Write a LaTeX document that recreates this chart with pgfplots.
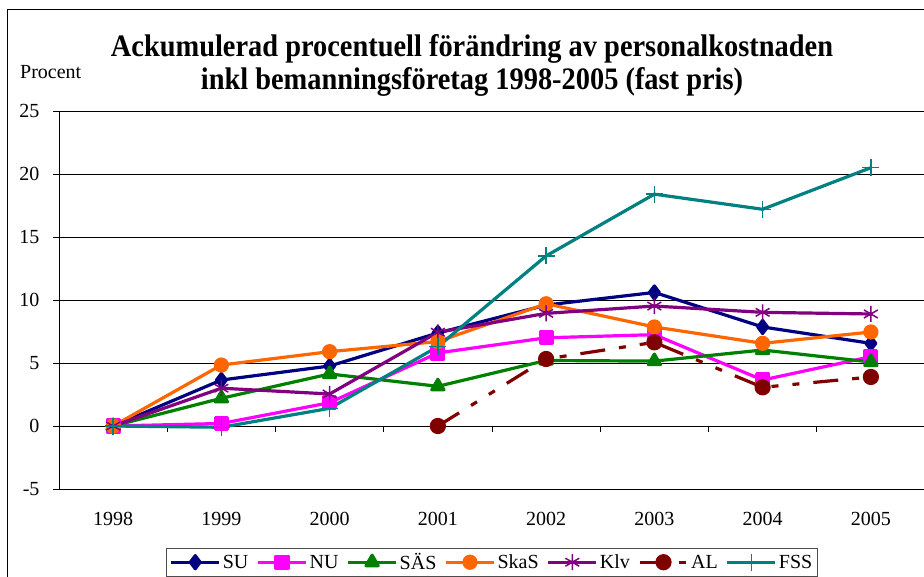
\documentclass[border=0pt]{standalone}
\usepackage{fontspec}
\setmainfont{Liberation Serif}
\usepackage{pgfplots}
\pgfplotsset{compat=1.18}
\definecolor{suC}{RGB}{0,0,128}
\definecolor{nuC}{RGB}{255,0,255}
\definecolor{sasC}{RGB}{0,128,0}
\definecolor{skasC}{RGB}{255,102,0}
\definecolor{klvC}{RGB}{128,0,128}
\definecolor{alC}{RGB}{128,0,0}
\definecolor{fssC}{RGB}{0,128,128}
\begin{document}
\begin{tikzpicture}[x=1pt,y=1pt]
\useasboundingbox (0,0) rectangle (924,576);
\draw[line width=1pt] (7,-5) -- (7,566) -- (930,566);
\node[anchor=base,font=\bfseries\fontsize{28.4}{33}\selectfont,inner sep=0] at (472,519) {\scalebox{1}[1.1]{Ackumulerad procentuell förändring av personalkostnaden}};
\node[anchor=base,font=\bfseries\fontsize{28.4}{33}\selectfont,inner sep=0] at (472,486) {\scalebox{1}[1.1]{inkl bemanningsföretag 1998-2005 (fast pris)}};
\node[anchor=base west,font=\fontsize{20}{24}\selectfont,inner sep=0] at (20,497) {Procent};
\begin{axis}[
    at={(59pt,87pt)}, anchor=south west,
    scale only axis,
    width=866pt, height=378pt,
    xmin=-0.5, xmax=7.5,
    ymin=-5, ymax=25,
    xtick={0,...,7},
    xticklabels={1998,1999,2000,2001,2002,2003,2004,2005},
    xtick style={draw=none},
    xticklabel shift=14pt,
    ytick={-5,0,5,10,15,20,25},
    yticklabel style={xshift=-10pt},
    ymajorgrids,
    grid style={black, line width=0.9pt},
    axis lines*=left,
    axis line style={line width=0.9pt},
    tick align=outside,
    major tick length=6pt,
    ytick style={black, line width=0.9pt},
    ticklabel style={font=\fontsize{20}{24}\selectfont},
    /pgf/number format/assume math mode=true,
    clip=false,
    legend columns=7,
    legend style={at={(0.5,-0.156)}, anchor=north, draw=black!70, line width=0.8pt,
        font=\fontsize{20}{24}\selectfont, inner sep=3pt,
        nodes={inner sep=2pt},
        /tikz/every even column/.append style={column sep=6pt}},
    legend image code/.code={\draw[mark repeat=2,mark phase=2,#1] plot coordinates {(0pt,0pt) (24pt,0pt) (48pt,0pt)};},
    every axis plot/.append style={line width=3.2pt, line join=round},
]
\draw[line width=0.9pt] (axis cs:-0.5,0) -- (axis cs:7.5,0);
\pgfplotsinvokeforeach{0.5,1.5,2.5,3.5,4.5,5.5,6.5}{
  \draw[line width=0.9pt] (axis cs:#1,0) -- ([yshift=-6pt]axis cs:#1,0);
}
\addplot[suC, mark=diamond*, mark size=6.5pt, mark options={solid}] coordinates {
 (0,0) (1,3.65) (2,4.76) (3,7.38) (4,9.6) (5,10.6) (6,7.86) (7,6.56)};
\addlegendentry{SU}
\addplot[nuC, mark=square*, mark size=6pt, mark options={solid}] coordinates {
 (0,0) (1,0.2) (2,1.85) (3,5.8) (4,7.0) (5,7.25) (6,3.65) (7,5.5)};
\addlegendentry{NU}
\addplot[sasC, mark=triangle*, mark size=7pt, mark options={solid}] coordinates {
 (0,0) (1,2.2) (2,4.13) (3,3.15) (4,5.2) (5,5.15) (6,6.03) (7,5.08)};
\addlegendentry{SÄS}
\addplot[skasC, mark=*, mark size=6pt, mark options={solid}] coordinates {
 (0,0) (1,4.84) (2,5.9) (3,6.7) (4,9.7) (5,7.86) (6,6.56) (7,7.46)};
\addlegendentry{SkaS}
\addplot[klvC, mark=asterisk, mark size=8pt, mark options={solid, line width=1.5pt}] coordinates {
 (0,0) (1,3.0) (2,2.54) (3,7.44) (4,8.94) (5,9.52) (6,9.02) (7,8.89)};
\addlegendentry{Klv}
\addplot[alC, mark=*, mark size=6.5pt, mark options={solid},
   dash pattern=on 25pt off 14pt on 7pt off 14pt on 7pt off 14pt] coordinates {
 (3,0) (4,5.32) (5,6.64) (6,3.07) (7,3.89)};
\addlegendentry{AL}
\addplot[fssC, mark=+, mark size=8.5pt, mark options={solid, line width=1.5pt}] coordinates {
 (0,0) (1,-0.1) (2,1.4) (3,6.3) (4,13.5) (5,18.4) (6,17.2) (7,20.5)};
\addlegendentry{FSS}
\end{axis}
\end{tikzpicture}
\end{document}
